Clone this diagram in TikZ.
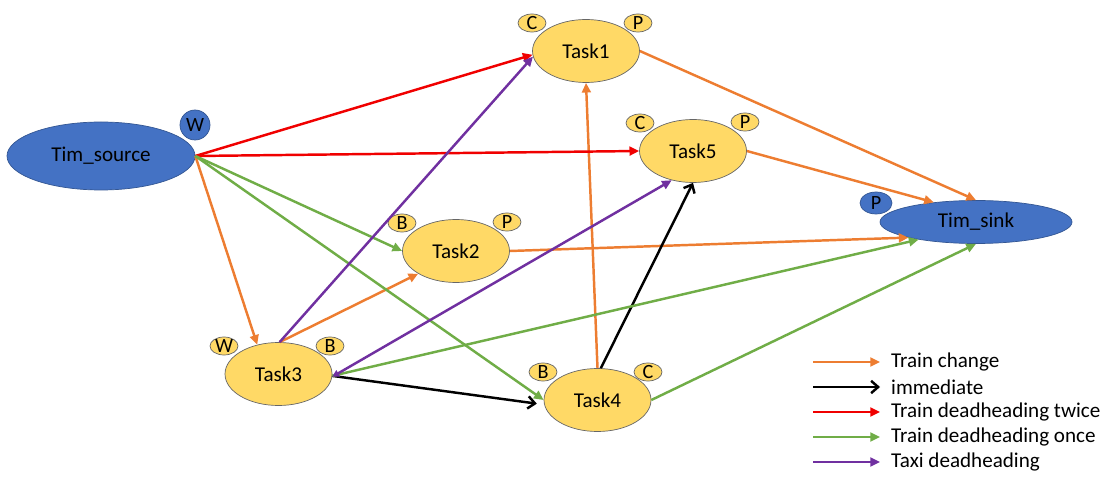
\documentclass[tikz,border=0pt]{standalone}
\usepackage{fontspec}
\setmainfont{Carlito}
\usepackage{tikz}
\usetikzlibrary{arrows.meta,shapes.geometric}

\definecolor{taskyellow}{HTML}{FFD966}
\definecolor{timblue}{HTML}{4472C4}
\definecolor{chgorange}{HTML}{ED7D31}
\definecolor{oncegreen}{HTML}{70AD47}
\definecolor{taxipurple}{HTML}{7030A0}
\definecolor{twicered}{HTML}{F00000}

\begin{document}
\begin{tikzpicture}[auto,
	font=\fontsize{12}{14}\selectfont,
	task/.style={ellipse, draw=gray!80!black, fill=taskyellow, minimum width=2.14cm, minimum height=1.26cm, inner sep=0pt},
	tim/.style={ellipse, draw=timblue!75!black, fill=timblue, inner sep=0pt},
	tag/.style={ellipse, draw=gray!80!black, fill=taskyellow, inner sep=0pt, minimum width=0.56cm, minimum height=0.36cm, text height=1.45ex, text depth=0pt, font=\fontsize{11.5}{13}\selectfont},
	timtag/.style={tag, draw=timblue!75!black, fill=timblue},
	edge/.style={line width=1.4pt},
	changeline/.style={edge, draw=chgorange, -{Triangle[length=5.5pt,width=5pt]}},
	immline/.style={edge, draw=black, -{Straight Barb[length=4pt,width=7pt]}},
	twiceline/.style={edge, draw=twicered, -{Triangle[length=5.5pt,width=5pt]}},
	onceline/.style={edge, draw=oncegreen, -{Triangle[length=5.5pt,width=5pt]}},
	taxiline/.style={edge, draw=taxipurple, -{Triangle[length=5.5pt,width=5pt]}}]
	\useasboundingbox (0, 0) rectangle (22.2, 9.58);

	\node[tim, minimum width=3.76cm, minimum height=1.36cm] (source) at (2.02, 6.46) {Tim\_source};
	\node[tim, minimum width=3.84cm, minimum height=0.86cm] (sink) at (19.52, 5.14) {Tim\_sink};
	\node[task] (task1) at (11.72, 8.56) {Task1};
	\node[task] (task2) at (9.12, 4.56) {Task2};
	\node[task] (task3) at (5.57, 2.10) {Task3};
	\node[task] (task4) at (11.95, 1.58) {Task4};
	\node[task] (task5) at (13.86, 6.56) {Task5};

	\node[timtag, minimum width=0.6cm, minimum height=0.6cm] (wsource) at (3.90, 7.08) {W};
	\node[timtag, minimum width=0.64cm, minimum height=0.44cm] (psink) at (17.52, 5.52) {P};
	\node[tag] (c1) at (10.64, 9.12) {C};
	\node[tag] (p1) at (12.76, 9.12) {P};
	\node[tag] (b2) at (8.04, 5.12) {B};
	\node[tag] (p2) at (10.14, 5.14) {P};
	\node[tag] (w3) at (4.48, 2.66) {W};
	\node[tag] (b3) at (6.60, 2.66) {B};
	\node[tag] (b4) at (10.86, 2.14) {B};
	\node[tag] (c4) at (12.96, 2.14) {C};
	\node[tag] (c5) at (12.80, 7.12) {C};
	\node[tag] (p5) at (14.90, 7.14) {P};

	\draw [changeline] (source.east) to (task3.126);
	\draw [changeline] (task3.88) to (task2.211);
	\draw [changeline] (task4.90) to (task1.270);
	\draw [changeline] (task1.east) to (sink.90);
	\draw [changeline] (task5.east) to (sink.155);
	\draw [changeline] (task2.east) to (sink.193);

	\draw [immline, shorten >=1.5mm] (task3.-2) to (task4.185);
	\draw [immline] (task4.84) to (task5.270);

	\draw [twiceline] (source.east) to (task1.184);
	\draw [twiceline] (source.east) to (task5.west);

	\draw [onceline] (source.east) to (task2.west);
	\draw [onceline] (source.east) to (task4.west);
	\draw [onceline] (task3.-2) to (sink.197);
	\draw [onceline] (task4.east) to (sink.270);

	\draw [taxiline] (task3.88) to (task1.186);
	\draw [taxiline, {Triangle[length=4pt,width=4pt]}-{Triangle[length=5.5pt,width=5pt]}] (task3.-3) to (task5.234);

	\node[anchor=west] (change) at (17.70, 2.34) {Train change};
	\node[anchor=west] (immediate) at (17.70, 1.84) {immediate};
	\node[anchor=west] (twice) at (17.70, 1.34) {Train deadheading twice};
	\node[anchor=west] (once) at (17.70, 0.84) {Train deadheading once};
	\node[anchor=west] (taxi) at (17.70, 0.34) {Taxi deadheading};
	\coordinate (lchange) at (16.26, 2.34);
	\coordinate (limmediate) at (16.26, 1.84);
	\coordinate (ltwice) at (16.26, 1.34);
	\coordinate (lonce) at (16.26, 0.84);
	\coordinate (ltaxi) at (16.26, 0.34);
	\draw [changeline, shorten >=1mm] (lchange) to (change.west);
	\draw [immline, shorten >=1mm] (limmediate) to (immediate.west);
	\draw [twiceline, shorten >=1mm] (ltwice) to (twice.west);
	\draw [onceline, shorten >=1mm] (lonce) to (once.west);
	\draw [taxiline, shorten >=1mm] (ltaxi) to (taxi.west);
\end{tikzpicture}
\end{document}
